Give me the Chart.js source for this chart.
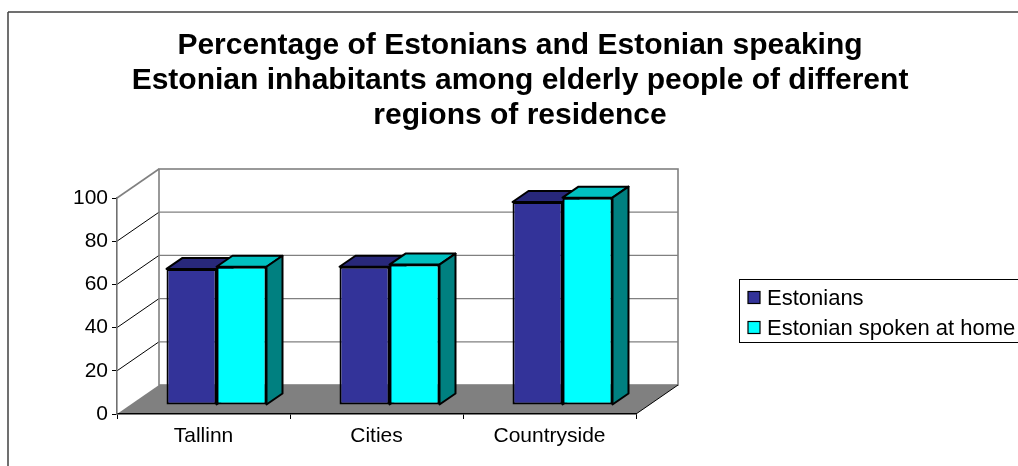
<!DOCTYPE html>
<html>
<head>
<meta charset="utf-8">
<script src="https://cdn.jsdelivr.net/npm/chart.js@4.4.1/dist/chart.umd.min.js"></script>
<style>
  html, body { margin: 0; padding: 0; background: #ffffff; }
  #wrap { width: 1018px; height: 466px; }
</style>
</head>
<body>
<div id="wrap"><canvas id="chart" width="1018" height="466"></canvas></div>
<script>
// Chart data
const categories = ['Tallinn', 'Cities', 'Countryside'];
const estonians = [63, 64, 94];
const spokenAtHome = [64, 65, 96];
const seriesNames = ['Estonians', 'Estonian spoken at home'];
const yTickValues = [0, 20, 40, 60, 80, 100];
const titleLines = [
  'Percentage of Estonians and Estonian speaking',
  'Estonian inhabitants among elderly people of different',
  'regions of residence'
];

// Styling for the pseudo-3D look
const FONT = "'Liberation Sans', Arial, Helvetica, sans-serif";
const FRONT_COLORS = ['#333399', '#00ffff'];
const TOP_COLORS = ['#28287a', '#00c0c0'];
const SIDE_COLORS = ['#1c1c55', '#008080'];
const WALL_DEPTH = { x: 42, y: -29 };   // offset of back wall from the front plane
const BAR_SHIFT = { x: 13, y: -9 };     // bars stand part-way into the floor
const BAR_DEPTH = { x: 16, y: -11 };    // thickness of each bar

Chart.defaults.font.family = FONT;
Chart.defaults.color = '#000000';

function line(ctx, x1, y1, x2, y2, color, width) {
  ctx.beginPath();
  ctx.moveTo(x1, y1);
  ctx.lineTo(x2, y2);
  ctx.strokeStyle = color;
  ctx.lineWidth = width;
  ctx.stroke();
}

function poly(ctx, pts, fill, stroke, width) {
  ctx.beginPath();
  ctx.moveTo(pts[0][0], pts[0][1]);
  for (let i = 1; i < pts.length; i++) ctx.lineTo(pts[i][0], pts[i][1]);
  ctx.closePath();
  if (fill) { ctx.fillStyle = fill; ctx.fill(); }
  if (stroke) { ctx.strokeStyle = stroke; ctx.lineWidth = width; ctx.lineJoin = 'round'; ctx.stroke(); }
}

const box3d = {
  id: 'box3d',
  afterLayout(chart) {
    // let the title run across the whole frame, centred over it
    const t = chart.titleBlock;
    if (t) { t.left = 0; t.right = 1040; t.width = 1040; }
  },
  beforeDraw(chart) {
    const ctx = chart.ctx;
    const a = chart.chartArea;
    const ys = chart.scales.y;
    const dx = WALL_DEPTH.x, dy = WALL_DEPTH.y;
    ctx.save();
    ctx.fillStyle = '#ffffff';
    ctx.fillRect(0, 0, chart.width, chart.height);

    // outer frame
    line(ctx, 8, 12, chart.width + 2, 12, '#404040', 1.5);
    line(ctx, 8, 12, 8, chart.height + 2, '#404040', 1.5);

    const y0 = ys.getPixelForValue(0);
    const yTop = ys.getPixelForValue(100);

    // back wall gridlines
    yTickValues.forEach(v => {
      if (v === 0 || v === 100) return;
      const y = ys.getPixelForValue(v) + dy;
      line(ctx, a.left + dx, y, a.right + dx, y, '#808080', 1.2);
    });
    // side wall gridlines
    yTickValues.forEach(v => {
      if (v === 0 || v === 100) return;
      const y = ys.getPixelForValue(v);
      line(ctx, a.left, y, a.left + dx, y + dy, '#000000', 1);
    });
    // wall outlines
    ctx.strokeStyle = '#808080';
    ctx.lineWidth = 1.6;
    ctx.strokeRect(a.left + dx, yTop + dy, a.right - a.left, y0 - yTop);
    line(ctx, a.left, yTop, a.left + dx, yTop + dy, '#808080', 1.6);

    // floor
    poly(ctx, [[a.left, y0], [a.right, y0], [a.right + dx, y0 + dy], [a.left + dx, y0 + dy]], '#808080', null, 0);
    line(ctx, a.right, y0, a.right + dx, y0 + dy, '#000000', 1);
    ctx.restore();
  },
  beforeDatasetsDraw(chart) {
    // paint bars left to right so each block hides the one behind it
    const ctx = chart.ctx;
    const ddx = BAR_DEPTH.x, ddy = BAR_DEPTH.y;
    const metas = chart.data.datasets.map((_, i) => chart.getDatasetMeta(i));
    ctx.save();
    ctx.translate(BAR_SHIFT.x, BAR_SHIFT.y);
    categories.forEach((_, j) => {
      metas.forEach((meta, i) => {
        const el = meta.data[j];
        if (!el) return;
        el.draw(ctx, chart.chartArea);
        const p = el.getProps(['x', 'y', 'base', 'width'], true);
        const l = p.x - p.width / 2, r = p.x + p.width / 2;
        const t = Math.min(p.y, p.base), b = Math.max(p.y, p.base);
        poly(ctx, [[l, t], [r, t], [r + ddx, t + ddy], [l + ddx, t + ddy]], TOP_COLORS[i], '#000000', 2);
        poly(ctx, [[r, t], [r + ddx, t + ddy], [r + ddx, b + ddy], [r, b]], SIDE_COLORS[i], '#000000', 2);
      });
    });
    ctx.restore();
    return false;
  },
  afterDraw(chart) {
    // legend
    const ctx = chart.ctx;
    ctx.save();
    ctx.fillStyle = '#ffffff';
    ctx.fillRect(739, 279, 300, 64);
    ctx.strokeStyle = '#000000';
    ctx.lineWidth = 1;
    ctx.strokeRect(739.5, 279.5, 300, 63);
    ctx.font = '22px ' + FONT;
    ctx.textBaseline = 'middle';
    ctx.textAlign = 'left';
    chart.data.datasets.forEach((ds, k) => {
      const cy = 297.5 + k * 30;
      ctx.fillStyle = ds.backgroundColor;
      ctx.fillRect(748, cy - 6, 12, 12);
      ctx.strokeStyle = '#000000';
      ctx.lineWidth = 1.2;
      ctx.strokeRect(748, cy - 6, 12, 12);
      ctx.fillStyle = '#000000';
      ctx.fillText(ds.label, 767, cy + 1);
    });
    ctx.restore();
  }
};

new Chart(document.getElementById('chart'), {
  type: 'bar',
  data: {
    labels: categories,
    datasets: [
      { label: seriesNames[0], data: estonians, backgroundColor: FRONT_COLORS[0] },
      { label: seriesNames[1], data: spokenAtHome, backgroundColor: FRONT_COLORS[1] }
    ]
  },
  options: {
    responsive: false,
    animation: false,
    layout: { padding: { left: 0, right: 382, top: 0, bottom: 0 } },
    datasets: {
      bar: {
        categoryPercentage: 0.578,
        barPercentage: 1,
        borderColor: '#000000',
        borderWidth: 2,
        borderSkipped: false,
        clip: false
      }
    },
    plugins: {
      legend: { display: false },
      tooltip: { enabled: false },
      title: {
        display: true,
        text: titleLines,
        color: '#000000',
        font: { size: 30, weight: 'bold', lineHeight: 35 / 30 },
        padding: { top: 28, bottom: 65 }
      }
    },
    scales: {
      x: {
        type: 'category',
        offset: true,
        afterFit(scale) { scale.height = 52; },
        grid: { offset: true, drawOnChartArea: false, drawTicks: true, tickLength: 5, tickColor: '#000000', lineWidth: 1 },
        border: { display: true, color: '#000000', width: 1.5 },
        ticks: { font: { size: 21 }, color: '#000000', padding: 5 }
      },
      y: {
        min: 0,
        max: 100,
        afterFit(scale) { scale.width = 117; },
        afterBuildTicks(scale) { scale.ticks = yTickValues.map(v => ({ value: v })); },
        grid: { drawOnChartArea: false, drawTicks: true, tickLength: 5, tickColor: '#000000', lineWidth: 1 },
        border: { display: true, color: '#707070', width: 1.6 },
        ticks: { font: { size: 21 }, color: '#000000', padding: 4 }
      }
    }
  },
  plugins: [box3d]
});
</script>
</body>
</html>
